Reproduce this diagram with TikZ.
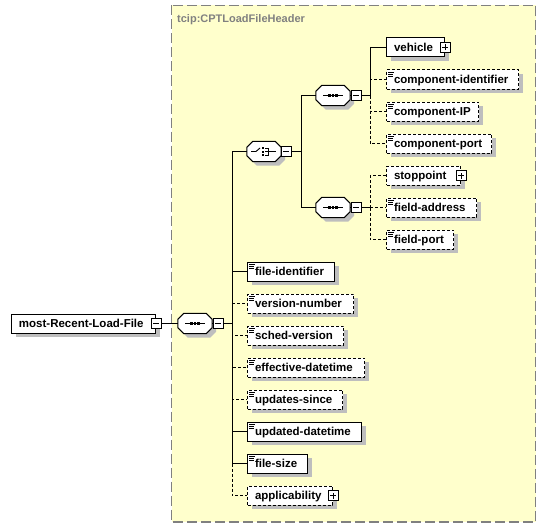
\documentclass[tikz,border=0pt]{standalone}
\usepackage{fontspec}
\setmainfont{Liberation Sans}
\usetikzlibrary{shadows}
\definecolor{bgyellow}{RGB}{255,255,204}
\definecolor{bordergray}{RGB}{128,128,128}
\definecolor{shadowc}{RGB}{190,190,190}
\newcommand\elfont{\fontsize{11.5}{13}\selectfont\bfseries}
\newcommand\lbl[2]{\makebox[#1pt][l]{#2}}
\newcommand\octbox[1]{%
  \fill[shadowc, transform canvas={shift={(4pt,-4pt)}}]
    ([xshift=6pt]#1.north west) -- ([xshift=-6pt]#1.north east) -- ([yshift=-6pt]#1.north east) -- ([yshift=6pt]#1.south east) -- ([xshift=-6pt]#1.south east) -- ([xshift=6pt]#1.south west) -- ([yshift=6pt]#1.south west) -- ([yshift=-6pt]#1.north west) -- cycle;
  \filldraw[fill=white, line width=1pt]
    ([xshift=6pt]#1.north west) -- ([xshift=-6pt]#1.north east) -- ([yshift=-6pt]#1.north east) -- ([yshift=6pt]#1.south east) -- ([xshift=-6pt]#1.south east) -- ([xshift=6pt]#1.south west) -- ([yshift=6pt]#1.south west) -- ([yshift=-6pt]#1.north west) -- cycle;}
\newcommand\seqicon[1]{%
  \draw[line width=0.9pt] ([xshift=-10pt]#1.center) -- ([xshift=10pt]#1.center);
  \fill ([shift={(-4.8pt,-1.4pt)}]#1.center) rectangle ++(2.8pt,2.8pt);
  \fill ([shift={(-1.4pt,-1.4pt)}]#1.center) rectangle ++(2.8pt,2.8pt);
  \fill ([shift={(2pt,-1.4pt)}]#1.center) rectangle ++(2.8pt,2.8pt);}
\newcommand\choiceicon[1]{%
  \draw[line width=0.9pt] ([xshift=-13pt]#1.center) -- ++(5pt,0pt) -- ++(4pt,3.5pt);
  \fill ([shift={(-2pt,2.5pt)}]#1.center) rectangle ++(2pt,2pt);
  \fill ([shift={(-2pt,-1pt)}]#1.center) rectangle ++(2pt,2pt);
  \fill ([shift={(-2pt,-4.5pt)}]#1.center) rectangle ++(2pt,2pt);
  \draw[line width=0.9pt] ([shift={(1pt,3.5pt)}]#1.center) -- ++(3pt,0pt) -- ++(0pt,-7pt) -- ++(-3pt,0pt);
  \draw[line width=0.9pt] ([shift={(1pt,0pt)}]#1.center) -- ++(10.5pt,0pt);}
\tikzset{
  elem/.style={draw, fill=white, line width=1pt, anchor=west, minimum height=19pt,
    inner xsep=7.5pt, inner ysep=0pt, text height=10pt, text depth=2pt, font=\elfont,
    drop shadow={shadow xshift=4pt, shadow yshift=-4pt, fill=shadowc, opacity=1}},
  opt/.style={elem, dash pattern=on 3pt off 2pt},
  leaf/.style={path picture={
    \draw[solid, line width=0.8pt] ([shift={(1.5pt,-2pt)}]path picture bounding box.north west) -- ++(5.5pt,0pt);
    \draw[solid, line width=0.8pt] ([shift={(1.5pt,-4pt)}]path picture bounding box.north west) -- ++(5pt,0pt);
    \draw[solid, line width=0.8pt] ([shift={(1.5pt,-6pt)}]path picture bounding box.north west) -- ++(5pt,0pt);}},
  pmbox/.style={draw, fill=white, line width=0.8pt, minimum size=10pt, inner sep=0pt},
  minusbox/.style={pmbox, path picture={
    \draw[solid, line width=0.8pt] ([xshift=2pt]path picture bounding box.west) -- ([xshift=-2pt]path picture bounding box.east);}},
  plusbox/.style={pmbox, path picture={
    \draw[solid, line width=0.8pt] ([xshift=2pt]path picture bounding box.west) -- ([xshift=-2pt]path picture bounding box.east);
    \draw[solid, line width=0.8pt] ([yshift=2pt]path picture bounding box.south) -- ([yshift=-2pt]path picture bounding box.north);}},
  octo/.style={rectangle, minimum width=34pt, minimum height=20pt, inner sep=0pt},
  conn/.style={line width=1pt},
  optc/.style={conn, dash pattern=on 3pt off 2pt}
}
\begin{document}
\begin{tikzpicture}[x=1pt,y=-1pt]
\useasboundingbox (0,0) rectangle (546,527);
% background type box
\fill[bgyellow] (171.5,5.5) rectangle (535.5,522);
\draw[bordergray, line width=1.6pt, dash pattern=on 10pt off 4pt] (171.5,5.5) rectangle (535.5,522);
\node[anchor=base west, inner sep=0pt, text=bordergray, font=\fontsize{11}{13}\selectfont\bfseries] (tname) at (177,22.5) {tcip:CPTLoadFileHeader};

% root
\node[elem] (root) at (11,323.5) {\lbl{129}{most-Recent-Load-File}};
\node[minusbox] (rootm) at (root.east) {};

% compositors
\node[octo] (s0) at (195,323.5) {};
\octbox{s0}\seqicon{s0}
\node[minusbox] (s0m) at (218,323.5) {};
\coordinate (v0) at (232,323.5);

\node[octo] (ch) at (264,151.5) {};
\octbox{ch}\choiceicon{ch}
\node[minusbox] (chm) at (286,151.5) {};
\coordinate (v1) at (301,151.5);

\node[octo] (sa) at (333,95.5) {};
\octbox{sa}\seqicon{sa}
\node[minusbox] (sam) at (356,95.5) {};
\coordinate (v2) at (370,95.5);

\node[octo] (sb) at (333,207.5) {};
\octbox{sb}\seqicon{sb}
\node[minusbox] (sbm) at (356,207.5) {};
\coordinate (v3) at (370,207.5);

% upper sequence children
\node[elem] (veh) at (386,47.5) {\lbl{43}{vehicle}};
\node[plusbox] (vehp) at (veh.east) {};
\node[opt,leaf] (cid) at (386,79.5) {\lbl{117}{component-identifier}};
\node[opt,leaf] (cip) at (386,111.5) {\lbl{77}{component-IP}};
\node[opt,leaf] (cpo) at (386,143.5) {\lbl{90}{component-port}};

% lower sequence children
\node[opt] (stp) at (386,175.5) {\lbl{59}{stoppoint}};
\node[plusbox] (stpp) at (stp.east) {};
\node[opt,leaf] (fad) at (386,207.5) {\lbl{75}{field-address}};
\node[opt,leaf] (fpo) at (386,239.5) {\lbl{52}{field-port}};

% main sequence children
\node[elem,leaf] (fid) at (247,271.5) {\lbl{72}{file-identifier}};
\node[opt,leaf] (vno) at (247,303.5) {\lbl{91}{version-number}};
\node[opt,leaf] (sve) at (247,335.5) {\lbl{81}{sched-version}};
\node[opt,leaf] (edt) at (247,367.5) {\lbl{102}{effective-datetime}};
\node[opt,leaf] (usi) at (247,399.5) {\lbl{80}{updates-since}};
\node[elem,leaf] (udt) at (247,431.5) {\lbl{99}{updated-datetime}};
\node[elem,leaf] (fsz) at (247,463.5) {\lbl{45}{file-size}};
\node[opt] (app) at (247,495.5) {\lbl{70}{applicability}};
\node[plusbox] (appp) at (app.east) {};

% connectors
\draw[conn] (rootm.east) -- (s0.west);
\draw[conn] (s0.east) -- (s0m.west);
\draw[conn] (s0m.east) -- (v0);
\draw[optc] (v0) |- (vno.west);
\draw[optc] (v0) |- (sve.west);
\draw[optc] (v0) |- (edt.west);
\draw[optc] (v0) |- (usi.west);
\draw[optc] (v0) |- (app.west);
\draw[conn] (v0) |- (ch.west);
\draw[conn] (v0) |- (fid.west);
\draw[conn] (v0) |- (udt.west);
\draw[conn] (v0) |- (fsz.west);

\draw[conn] (ch.east) -- (chm.west);
\draw[conn] (chm.east) -- (v1);
\draw[conn] (v1) |- (sa.west);
\draw[conn] (v1) |- (sb.west);

\draw[conn] (sa.east) -- (sam.west);
\draw[conn] (sam.east) -- (v2);
\draw[optc] (v2) |- (cid.west);
\draw[optc] (v2) |- (cip.west);
\draw[optc] (v2) |- (cpo.west);
\draw[conn] (v2) |- (veh.west);

\draw[conn] (sb.east) -- (sbm.west);
\draw[conn] (sbm.east) -- (v3);
\draw[optc] (v3) |- (stp.west);
\draw[optc] (v3) |- (fad.west);
\draw[optc] (v3) |- (fpo.west);
\end{tikzpicture}
\end{document}
